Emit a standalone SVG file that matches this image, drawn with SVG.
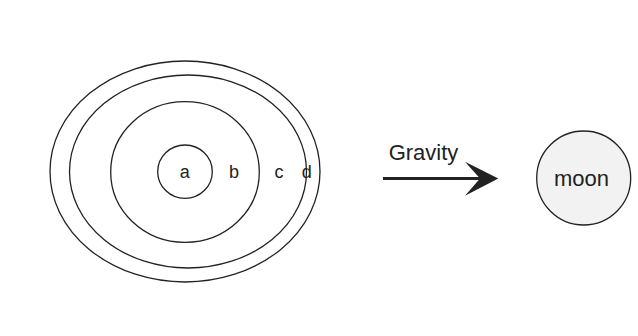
<svg xmlns="http://www.w3.org/2000/svg" width="638" height="336" viewBox="0 0 638 336">
<style>
.ring{fill:none;stroke:#222;stroke-width:1.3}
.lbl{font-family:"Liberation Sans",Arial,sans-serif;font-size:18px;fill:#222;text-anchor:middle}
.big{font-family:"Liberation Sans",Arial,sans-serif;font-size:22px;fill:#222;text-anchor:middle}
</style>
<rect width="638" height="336" fill="#fff"/>
<g id="earth">
<ellipse id="ring-d" class="ring" cx="185" cy="171.5" rx="135" ry="110.5"/>
<ellipse id="ring-c" class="ring" cx="188" cy="171.5" rx="118.5" ry="96.5"/>
<ellipse id="ring-b" class="ring" cx="185" cy="172" rx="74.3" ry="70.3"/>
<ellipse id="ring-a" class="ring" cx="185" cy="171.7" rx="27.3" ry="26.7"/>
<text class="lbl" x="184.7" y="178.3">a</text>
<text class="lbl" x="234" y="178.3">b</text>
<text class="lbl" x="279" y="178.3">c</text>
<text class="lbl" x="306.7" y="178.3">d</text>
</g>
<g id="connectors">
<line x1="383" y1="178.5" x2="484" y2="178.5" stroke="#222" stroke-width="3"/>
<path d="M465,161.7 L498.3,178.5 L465,195.7 L480,178.5 Z" fill="#222"/>
<text class="big" x="423.5" y="159.5">Gravity</text>
</g>
<g id="moon">
<circle cx="583.7" cy="178" r="47" fill="#f2f2f2" stroke="#222" stroke-width="1.3"/>
<text class="big" x="581.5" y="185.5">moon</text>
</g>
</svg>
